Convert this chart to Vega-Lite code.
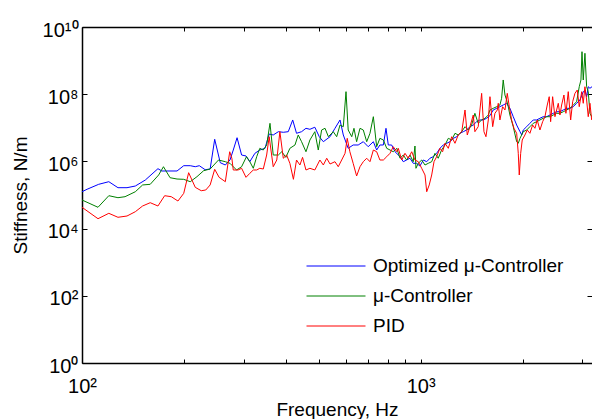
{
  "$schema": "https://vega.github.io/schema/vega-lite/v6.json",
  "width": 510,
  "height": 336,
  "autosize": "none",
  "padding": {"left": 82, "top": 27, "right": 0, "bottom": 56},
  "background": "white",
  "config": {
    "view": {"stroke": null},
    "font": "Liberation Sans",
    "axis": {
      "grid": false,
      "domainColor": "black",
      "domainWidth": 1.5,
      "tickColor": "black",
      "tickWidth": 1,
      "labelColor": "black",
      "titleColor": "black",
      "labelFont": "Liberation Sans",
      "titleFont": "Liberation Sans",
      "labelFontSize": 20,
      "titleFontSize": 19,
      "titleFontWeight": "normal"
    }
  },
  "data": {
    "values": [
      {"f":100,"s":1.25e5,"c":"opt"},{"f":103.5,"s":1.48e5,"c":"opt"},{"f":112,"s":2.08e5,"c":"opt"},{"f":120,"s":2.49e5,"c":"opt"},{"f":127.7,"s":1.65e5,"c":"opt"},{"f":135.8,"s":1.65e5,"c":"opt"},{"f":143.7,"s":1.85e5,"c":"opt"},{"f":153.8,"s":2.79e5,"c":"opt"},{"f":167.6,"s":6.07e5,"c":"opt"},{"f":172,"s":5.18e5,"c":"opt"},{"f":190.8,"s":5.18e5,"c":"opt"},{"f":199.7,"s":7.45e5,"c":"opt"},{"f":208.8,"s":7.45e5,"c":"opt"},{"f":216,"s":6.95e5,"c":"opt"},{"f":222,"s":7.45e5,"c":"opt"},{"f":231,"s":5.66e5,"c":"opt"},{"f":239,"s":5.94e5,"c":"opt"},{"f":246.5,"s":4.55e6,"c":"opt"},{"f":256,"s":9.15e5,"c":"opt"},{"f":265,"s":7.81e5,"c":"opt"},{"f":273.5,"s":1.10e6,"c":"opt"},{"f":279.7,"s":2.18e6,"c":"opt"},{"f":287,"s":5.07e6,"c":"opt"},{"f":296,"s":1.55e6,"c":"opt"},{"f":305,"s":1.45e6,"c":"opt"},{"f":313,"s":9.80e5,"c":"opt"},{"f":324,"s":1.74e6,"c":"opt"},{"f":335,"s":2.18e6,"c":"opt"},{"f":347,"s":2.45e6,"c":"opt"},{"f":357,"s":6.53e6,"c":"opt"},{"f":367,"s":6.11e6,"c":"opt"},{"f":380,"s":7.66e6,"c":"opt"},{"f":393,"s":7.35e6,"c":"opt"},{"f":406.5,"s":7.66e6,"c":"opt"},{"f":419,"s":1.71e7,"c":"opt"},{"f":430,"s":6.86e6,"c":"opt"},{"f":445,"s":7.66e6,"c":"opt"},{"f":458.5,"s":9.66e6,"c":"opt"},{"f":471,"s":9.02e6,"c":"opt"},{"f":487,"s":1.04e7,"c":"opt"},{"f":502,"s":5.43e6,"c":"opt"},{"f":516,"s":3.86e6,"c":"opt"},{"f":540,"s":5.43e6,"c":"opt"},{"f":558.5,"s":9.66e6,"c":"opt"},{"f":578,"s":1.71e7,"c":"opt"},{"f":591,"s":6.11e6,"c":"opt"},{"f":611,"s":2.45e6,"c":"opt"},{"f":632,"s":3.08e6,"c":"opt"},{"f":654,"s":3.08e6,"c":"opt"},{"f":677,"s":3.86e6,"c":"opt"},{"f":700,"s":2.74e6,"c":"opt"},{"f":725,"s":3.86e6,"c":"opt"},{"f":741.5,"s":2.18e6,"c":"opt"},{"f":758,"s":3.08e6,"c":"opt"},{"f":776,"s":3.08e6,"c":"opt"},{"f":790,"s":9.66e6,"c":"opt"},{"f":802.5,"s":3.08e6,"c":"opt"},{"f":821,"s":3.08e6,"c":"opt"},{"f":840,"s":1.94e6,"c":"opt"},{"f":869,"s":1.38e6,"c":"opt"},{"f":888.5,"s":9.80e5,"c":"opt"},{"f":909,"s":1.10e6,"c":"opt"},{"f":930,"s":1.24e6,"c":"opt"},{"f":951,"s":8.77e5,"c":"opt"},{"f":973,"s":8.77e5,"c":"opt"},{"f":995,"s":7.30e5,"c":"opt"},{"f":1018,"s":1.10e6,"c":"opt"},{"f":1042,"s":9.80e5,"c":"opt"},{"f":1065,"s":1.24e6,"c":"opt"},{"f":1089,"s":1.38e6,"c":"opt"},{"f":1115,"s":1.74e6,"c":"opt"},{"f":1140,"s":2.45e6,"c":"opt"},{"f":1166,"s":3.08e6,"c":"opt"},{"f":1194,"s":3.46e6,"c":"opt"},{"f":1221,"s":3.86e6,"c":"opt"},{"f":1249,"s":4.87e6,"c":"opt"},{"f":1278,"s":5.43e6,"c":"opt"},{"f":1306,"s":6.86e6,"c":"opt"},{"f":1336,"s":7.66e6,"c":"opt"},{"f":1367,"s":8.60e6,"c":"opt"},{"f":1398,"s":1.08e7,"c":"opt"},{"f":1430,"s":1.21e7,"c":"opt"},{"f":1463,"s":1.52e7,"c":"opt"},{"f":1496,"s":1.71e7,"c":"opt"},{"f":1530,"s":1.71e7,"c":"opt"},{"f":1566,"s":1.92e7,"c":"opt"},{"f":1602,"s":2.3e7,"c":"opt"},{"f":1638,"s":3.39e7,"c":"opt"},{"f":1677,"s":3.80e7,"c":"opt"},{"f":1714,"s":4.25e7,"c":"opt"},{"f":1753,"s":4.77e7,"c":"opt"},{"f":1794,"s":5.36e7,"c":"opt"},{"f":1835,"s":3.80e7,"c":"opt"},{"f":1877,"s":2.14e7,"c":"opt"},{"f":1921,"s":1.21e7,"c":"opt"},{"f":1965,"s":7.66e6,"c":"opt"},{"f":1988,"s":6.11e6,"c":"opt"},{"f":2009,"s":8.60e6,"c":"opt"},{"f":2056,"s":1.08e7,"c":"opt"},{"f":2102,"s":1.36e7,"c":"opt"},{"f":2150,"s":1.71e7,"c":"opt"},{"f":2200,"s":1.71e7,"c":"opt"},{"f":2250,"s":1.92e7,"c":"opt"},{"f":2301,"s":2.14e7,"c":"opt"},{"f":2355,"s":2.14e7,"c":"opt"},{"f":2409,"s":2.40e7,"c":"opt"},{"f":2463,"s":2.70e7,"c":"opt"},{"f":2521,"s":3.01e7,"c":"opt"},{"f":2578,"s":3.01e7,"c":"opt"},{"f":2637,"s":3.39e7,"c":"opt"},{"f":2698,"s":3.80e7,"c":"opt"},{"f":2759,"s":3.80e7,"c":"opt"},{"f":2822,"s":4.25e7,"c":"opt"},{"f":2888,"s":5.36e7,"c":"opt"},{"f":2954,"s":6.72e7,"c":"opt"},{"f":3021,"s":1.19e8,"c":"opt"},{"f":3056,"s":1.33e8,"c":"opt"},{"f":3091,"s":8.43e7,"c":"opt"},{"f":3125,"s":1.67e8,"c":"opt"},{"f":3162,"s":1.50e8,"c":"opt"},{"f":3206,"s":1.67e8,"c":"opt"},

      {"f":100,"s":7.10e4,"c":"mu"},{"f":111.5,"s":4.31e4,"c":"mu"},{"f":120,"s":9.53e4,"c":"mu"},{"f":127.7,"s":8.31e4,"c":"mu"},{"f":134,"s":8.90e4,"c":"mu"},{"f":143.7,"s":1.25e5,"c":"mu"},{"f":151,"s":1.99e5,"c":"mu"},{"f":159,"s":2.08e5,"c":"mu"},{"f":168.4,"s":3.94e5,"c":"mu"},{"f":174,"s":6.95e5,"c":"mu"},{"f":182,"s":3.27e5,"c":"mu"},{"f":190.8,"s":2.99e5,"c":"mu"},{"f":199.7,"s":2.93e5,"c":"mu"},{"f":208.8,"s":2.49e5,"c":"mu"},{"f":218.5,"s":3.51e5,"c":"mu"},{"f":228.7,"s":5.29e5,"c":"mu"},{"f":239,"s":5.94e5,"c":"mu"},{"f":253,"s":1.10e6,"c":"mu"},{"f":265,"s":9.80e5,"c":"mu"},{"f":273.5,"s":8.77e5,"c":"mu"},{"f":286,"s":5.55e5,"c":"mu"},{"f":296,"s":6.95e5,"c":"mu"},{"f":306,"s":1.38e6,"c":"mu"},{"f":313,"s":9.80e5,"c":"mu"},{"f":320.5,"s":6.24e5,"c":"mu"},{"f":328,"s":1.38e6,"c":"mu"},{"f":335,"s":2.45e6,"c":"mu"},{"f":343,"s":2.18e6,"c":"mu"},{"f":351,"s":3.08e6,"c":"mu"},{"f":359,"s":1.36e7,"c":"mu"},{"f":367,"s":1.55e6,"c":"mu"},{"f":380,"s":1.55e6,"c":"mu"},{"f":389,"s":1.94e6,"c":"mu"},{"f":400,"s":1.32e6,"c":"mu"},{"f":411,"s":2.45e6,"c":"mu"},{"f":425.5,"s":3.08e6,"c":"mu"},{"f":435,"s":6.11e6,"c":"mu"},{"f":445,"s":3.86e6,"c":"mu"},{"f":458.5,"s":1.94e6,"c":"mu"},{"f":471,"s":4.33e6,"c":"mu"},{"f":487,"s":7.66e6,"c":"mu"},{"f":498.5,"s":2.18e6,"c":"mu"},{"f":510,"s":8.60e6,"c":"mu"},{"f":522,"s":9.66e6,"c":"mu"},{"f":534,"s":5.43e6,"c":"mu"},{"f":552,"s":7.66e6,"c":"mu"},{"f":565,"s":5.43e6,"c":"mu"},{"f":578,"s":1.21e7,"c":"mu"},{"f":591,"s":1.08e7,"c":"mu"},{"f":602,"s":1.19e8,"c":"mu"},{"f":611,"s":8.60e6,"c":"mu"},{"f":626,"s":5.43e6,"c":"mu"},{"f":635.5,"s":9.66e6,"c":"mu"},{"f":647,"s":3.86e6,"c":"mu"},{"f":662,"s":9.66e6,"c":"mu"},{"f":677,"s":8.60e6,"c":"mu"},{"f":693,"s":3.86e6,"c":"mu"},{"f":708.5,"s":6.86e6,"c":"mu"},{"f":725,"s":2.14e7,"c":"mu"},{"f":741.5,"s":2.74e6,"c":"mu"},{"f":758,"s":4.87e6,"c":"mu"},{"f":776,"s":4.33e6,"c":"mu"},{"f":794,"s":2.45e6,"c":"mu"},{"f":812,"s":2.18e6,"c":"mu"},{"f":830,"s":1.94e6,"c":"mu"},{"f":850,"s":2.45e6,"c":"mu"},{"f":869,"s":1.24e6,"c":"mu"},{"f":888.5,"s":1.55e6,"c":"mu"},{"f":909,"s":1.10e6,"c":"mu"},{"f":930,"s":1.55e6,"c":"mu"},{"f":951,"s":9.80e5,"c":"mu"},{"f":962,"s":2.87e6,"c":"mu"},{"f":968.5,"s":6.24e5,"c":"mu"},{"f":984,"s":8.77e5,"c":"mu"},{"f":1007,"s":1.10e6,"c":"mu"},{"f":1030,"s":7.81e5,"c":"mu"},{"f":1053,"s":8.77e5,"c":"mu"},{"f":1078,"s":9.80e5,"c":"mu"},{"f":1102,"s":1.74e6,"c":"mu"},{"f":1127,"s":1.24e6,"c":"mu"},{"f":1153,"s":2.18e6,"c":"mu"},{"f":1180,"s":3.08e6,"c":"mu"},{"f":1207,"s":4.87e6,"c":"mu"},{"f":1235,"s":4.33e6,"c":"mu"},{"f":1263,"s":6.86e6,"c":"mu"},{"f":1291,"s":6.11e6,"c":"mu"},{"f":1322,"s":7.66e6,"c":"mu"},{"f":1352,"s":1.08e7,"c":"mu"},{"f":1382,"s":8.60e6,"c":"mu"},{"f":1414,"s":1.21e7,"c":"mu"},{"f":1446,"s":2.70e7,"c":"mu"},{"f":1479,"s":1.36e7,"c":"mu"},{"f":1514,"s":1.71e7,"c":"mu"},{"f":1548,"s":1.92e7,"c":"mu"},{"f":1584,"s":2.40e7,"c":"mu"},{"f":1602,"s":3.39e7,"c":"mu"},{"f":1638,"s":3.80e7,"c":"mu"},{"f":1677,"s":4.25e7,"c":"mu"},{"f":1714,"s":4.77e7,"c":"mu"},{"f":1734,"s":7.55e7,"c":"mu"},{"f":1753,"s":2.65e8,"c":"mu"},{"f":1774,"s":9.46e7,"c":"mu"},{"f":1794,"s":6.72e7,"c":"mu"},{"f":1814,"s":4.25e7,"c":"mu"},{"f":1835,"s":2.40e7,"c":"mu"},{"f":1877,"s":1.08e7,"c":"mu"},{"f":1921,"s":3.86e6,"c":"mu"},{"f":1942,"s":3.46e6,"c":"mu"},{"f":1965,"s":4.87e6,"c":"mu"},{"f":2009,"s":7.66e6,"c":"mu"},{"f":2056,"s":8.60e6,"c":"mu"},{"f":2102,"s":1.08e7,"c":"mu"},{"f":2150,"s":1.36e7,"c":"mu"},{"f":2200,"s":1.52e7,"c":"mu"},{"f":2250,"s":1.71e7,"c":"mu"},{"f":2301,"s":1.92e7,"c":"mu"},{"f":2355,"s":2.14e7,"c":"mu"},{"f":2409,"s":2.14e7,"c":"mu"},{"f":2463,"s":2.40e7,"c":"mu"},{"f":2521,"s":2.70e7,"c":"mu"},{"f":2578,"s":2.70e7,"c":"mu"},{"f":2637,"s":3.01e7,"c":"mu"},{"f":2698,"s":3.39e7,"c":"mu"},{"f":2759,"s":3.80e7,"c":"mu"},{"f":2822,"s":4.77e7,"c":"mu"},{"f":2888,"s":5.98e7,"c":"mu"},{"f":2940,"s":1.67e8,"c":"mu"},{"f":2974,"s":2.65e8,"c":"mu"},{"f":2995,"s":1.84e9,"c":"mu"},{"f":3021,"s":2.65e8,"c":"mu"},{"f":3056,"s":1.65e9,"c":"mu"},{"f":3091,"s":1.67e8,"c":"mu"},{"f":3125,"s":1.19e8,"c":"mu"},{"f":3162,"s":2.70e7,"c":"mu"},{"f":3199,"s":2.14e7,"c":"mu"},

      {"f":100,"s":4.31e4,"c":"pid"},{"f":111.5,"s":1.97e4,"c":"pid"},{"f":120,"s":2.85e4,"c":"pid"},{"f":127.7,"s":2.17e4,"c":"pid"},{"f":135.8,"s":2.37e4,"c":"pid"},{"f":143.7,"s":3.18e4,"c":"pid"},{"f":151,"s":4.71e4,"c":"pid"},{"f":159,"s":5.90e4,"c":"pid"},{"f":167.6,"s":4.71e4,"c":"pid"},{"f":175.4,"s":9.53e4,"c":"pid"},{"f":183.5,"s":8.90e4,"c":"pid"},{"f":192,"s":6.62e4,"c":"pid"},{"f":199.7,"s":1.12e5,"c":"pid"},{"f":206.5,"s":4.61e5,"c":"pid"},{"f":216,"s":1.69e5,"c":"pid"},{"f":225,"s":1.34e5,"c":"pid"},{"f":232,"s":1.41e5,"c":"pid"},{"f":239,"s":1.99e5,"c":"pid"},{"f":246.5,"s":5.82e5,"c":"pid"},{"f":254,"s":3.36e5,"c":"pid"},{"f":265,"s":2.49e5,"c":"pid"},{"f":273,"s":1.94e6,"c":"pid"},{"f":277,"s":1.24e6,"c":"pid"},{"f":279.7,"s":5.55e5,"c":"pid"},{"f":289,"s":5.55e5,"c":"pid"},{"f":296,"s":6.24e5,"c":"pid"},{"f":305,"s":3.36e5,"c":"pid"},{"f":313,"s":4.42e5,"c":"pid"},{"f":320.5,"s":5.55e5,"c":"pid"},{"f":328,"s":5.55e5,"c":"pid"},{"f":335,"s":6.24e5,"c":"pid"},{"f":343,"s":5.94e5,"c":"pid"},{"f":351,"s":1.55e6,"c":"pid"},{"f":357,"s":5.43e6,"c":"pid"},{"f":367,"s":6.95e5,"c":"pid"},{"f":376,"s":1.10e6,"c":"pid"},{"f":384,"s":7.66e6,"c":"pid"},{"f":393,"s":1.24e6,"c":"pid"},{"f":402,"s":1.55e6,"c":"pid"},{"f":411,"s":8.77e5,"c":"pid"},{"f":421,"s":2.93e5,"c":"pid"},{"f":430,"s":1.10e6,"c":"pid"},{"f":440,"s":7.81e5,"c":"pid"},{"f":448,"s":1.32e6,"c":"pid"},{"f":458.5,"s":5.55e5,"c":"pid"},{"f":471,"s":6.24e5,"c":"pid"},{"f":487,"s":5.55e5,"c":"pid"},{"f":504,"s":1.10e6,"c":"pid"},{"f":516,"s":7.81e5,"c":"pid"},{"f":528,"s":1.24e6,"c":"pid"},{"f":540,"s":8.37e5,"c":"pid"},{"f":558.5,"s":9.80e5,"c":"pid"},{"f":571,"s":6.95e5,"c":"pid"},{"f":584.5,"s":1.10e6,"c":"pid"},{"f":598,"s":1.74e6,"c":"pid"},{"f":607,"s":4.87e6,"c":"pid"},{"f":618,"s":1.94e6,"c":"pid"},{"f":632,"s":8.77e5,"c":"pid"},{"f":647,"s":3.68e5,"c":"pid"},{"f":662,"s":6.95e5,"c":"pid"},{"f":677,"s":9.80e5,"c":"pid"},{"f":693,"s":1.24e6,"c":"pid"},{"f":708.5,"s":9.80e5,"c":"pid"},{"f":725,"s":2.18e6,"c":"pid"},{"f":741.5,"s":1.94e6,"c":"pid"},{"f":758,"s":1.10e6,"c":"pid"},{"f":776,"s":1.10e6,"c":"pid"},{"f":794,"s":1.38e6,"c":"pid"},{"f":812,"s":1.74e6,"c":"pid"},{"f":830,"s":2.74e6,"c":"pid"},{"f":850,"s":1.94e6,"c":"pid"},{"f":859,"s":2.45e6,"c":"pid"},{"f":879,"s":1.10e6,"c":"pid"},{"f":899,"s":1.74e6,"c":"pid"},{"f":919,"s":1.24e6,"c":"pid"},{"f":941,"s":1.94e6,"c":"pid"},{"f":962,"s":1.10e6,"c":"pid"},{"f":984,"s":9.80e5,"c":"pid"},{"f":1007,"s":6.24e5,"c":"pid"},{"f":1030,"s":3.94e5,"c":"pid"},{"f":1042,"s":1.25e5,"c":"pid"},{"f":1060,"s":1.99e5,"c":"pid"},{"f":1078,"s":3.94e5,"c":"pid"},{"f":1095,"s":9.80e5,"c":"pid"},{"f":1115,"s":1.38e6,"c":"pid"},{"f":1140,"s":2.45e6,"c":"pid"},{"f":1161,"s":1.94e6,"c":"pid"},{"f":1180,"s":3.46e6,"c":"pid"},{"f":1207,"s":2.45e6,"c":"pid"},{"f":1235,"s":5.43e6,"c":"pid"},{"f":1263,"s":3.46e6,"c":"pid"},{"f":1291,"s":6.11e6,"c":"pid"},{"f":1322,"s":7.66e6,"c":"pid"},{"f":1352,"s":3.39e7,"c":"pid"},{"f":1373,"s":6.11e6,"c":"pid"},{"f":1398,"s":1.08e7,"c":"pid"},{"f":1430,"s":2.40e7,"c":"pid"},{"f":1446,"s":7.66e6,"c":"pid"},{"f":1479,"s":1.08e7,"c":"pid"},{"f":1514,"s":1.06e8,"c":"pid"},{"f":1538,"s":7.66e6,"c":"pid"},{"f":1559,"s":5.43e6,"c":"pid"},{"f":1584,"s":1.71e7,"c":"pid"},{"f":1602,"s":8.43e7,"c":"pid"},{"f":1632,"s":1.08e7,"c":"pid"},{"f":1657,"s":2.70e7,"c":"pid"},{"f":1684,"s":3.39e7,"c":"pid"},{"f":1695,"s":5.36e7,"c":"pid"},{"f":1714,"s":1.71e7,"c":"pid"},{"f":1746,"s":4.25e7,"c":"pid"},{"f":1774,"s":3.39e7,"c":"pid"},{"f":1802,"s":1.06e8,"c":"pid"},{"f":1827,"s":4.25e7,"c":"pid"},{"f":1856,"s":1.71e7,"c":"pid"},{"f":1886,"s":9.66e6,"c":"pid"},{"f":1921,"s":6.86e6,"c":"pid"},{"f":1942,"s":1.74e6,"c":"pid"},{"f":1955,"s":3.94e5,"c":"pid"},{"f":1974,"s":1.74e6,"c":"pid"},{"f":1995,"s":4.33e6,"c":"pid"},{"f":2032,"s":6.11e6,"c":"pid"},{"f":2064,"s":8.60e6,"c":"pid"},{"f":2102,"s":6.86e6,"c":"pid"},{"f":2141,"s":1.21e7,"c":"pid"},{"f":2175,"s":9.66e6,"c":"pid"},{"f":2209,"s":1.71e7,"c":"pid"},{"f":2250,"s":8.60e6,"c":"pid"},{"f":2292,"s":1.52e7,"c":"pid"},{"f":2328,"s":2.14e7,"c":"pid"},{"f":2365,"s":4.77e7,"c":"pid"},{"f":2397,"s":8.43e7,"c":"pid"},{"f":2420,"s":1.52e7,"c":"pid"},{"f":2453,"s":8.43e7,"c":"pid"},{"f":2492,"s":2.14e7,"c":"pid"},{"f":2521,"s":3.39e7,"c":"pid"},{"f":2549,"s":5.36e7,"c":"pid"},{"f":2578,"s":2.40e7,"c":"pid"},{"f":2608,"s":4.77e7,"c":"pid"},{"f":2649,"s":9.46e7,"c":"pid"},{"f":2685,"s":2.70e7,"c":"pid"},{"f":2728,"s":1.19e8,"c":"pid"},{"f":2773,"s":1.71e7,"c":"pid"},{"f":2811,"s":5.98e7,"c":"pid"},{"f":2855,"s":1.06e8,"c":"pid"},{"f":2900,"s":1.33e8,"c":"pid"},{"f":2940,"s":4.25e7,"c":"pid"},{"f":2989,"s":1.19e8,"c":"pid"},{"f":3021,"s":5.36e7,"c":"pid"},{"f":3056,"s":1.67e8,"c":"pid"},{"f":3091,"s":6.72e7,"c":"pid"},{"f":3125,"s":2.14e7,"c":"pid"},{"f":3162,"s":5.36e7,"c":"pid"},{"f":3199,"s":1.71e7,"c":"pid"}
    ]
  },
  "layer": [
    {
      "mark": {"type": "line", "strokeWidth": 1, "clip": true},
      "encoding": {
        "x": {
          "field": "f", "type": "quantitative",
          "scale": {"type": "log", "domain": [100, 3206], "nice": false},
          "axis": {
            "orient": "bottom",
            "values": [100, 200, 300, 400, 500, 600, 700, 800, 900, 1000, 2000, 3000],
            "labelExpr": "datum.value == 100 ? '10²' : datum.value == 1000 ? '10³' : ''",
            "tickSize": -4,
            "labelPadding": 17,
            "labelFlush": false,
            "labelOverlap": false,
            "title": "Frequency, Hz",
            "titlePadding": 4
          }
        },
        "y": {
          "field": "s", "type": "quantitative",
          "scale": {"type": "log", "domain": [1, 1e10], "nice": false},
          "axis": {
            "orient": "left",
            "values": [1, 100, 10000, 1000000, 100000000, 10000000000],
            "labelExpr": "datum.value == 1 ? '10⁰' : datum.value == 100 ? '10²' : datum.value == 10000 ? '10⁴' : datum.value == 1000000 ? '10⁶' : datum.value == 100000000 ? '10⁸' : '10¹⁰'",
            "tickSize": -5,
            "labelPadding": 9,
            "labelFlush": false,
            "labelOverlap": false,
            "labelOffset": 3,
            "title": "Stiffness, N/m",
            "titlePadding": 12
          }
        },
        "color": {
          "field": "c", "type": "nominal",
          "scale": {"domain": ["opt", "mu", "pid"], "range": ["#0000ff", "#008000", "#ff0000"]},
          "legend": {
            "orient": "none",
            "legendX": 224,
            "legendY": 229,
            "title": null,
            "padding": 0,
            "symbolType": "stroke",
            "symbolSize": 3481,
            "symbolStrokeWidth": 1,
            "clipHeight": 20,
            "rowPadding": 10,
            "labelOffset": 7,
            "labelFont": "Liberation Sans",
            "labelFontSize": 19,
            "labelColor": "black",
            "labelLimit": 400,
            "labelExpr": "datum.value == 'opt' ? 'Optimized μ-Controller' : datum.value == 'mu' ? 'μ-Controller' : 'PID'"
          }
        }
      }
    },
    {
      "mark": {"type": "line", "strokeOpacity": 0},
      "encoding": {
        "x": {
          "field": "f", "type": "quantitative",
          "scale": {"type": "log", "domain": [100, 3206], "nice": false},
          "axis": {
            "orient": "top",
            "values": [100, 200, 300, 400, 500, 600, 700, 800, 900, 1000, 2000, 3000],
            "labels": false,
            "tickSize": -4,
            "title": null
          }
        },
        "y": {
          "field": "s", "type": "quantitative",
          "scale": {"type": "log", "domain": [1, 1e10], "nice": false},
          "axis": {
            "orient": "right",
            "values": [1, 100, 10000, 1000000, 100000000, 10000000000],
            "labels": false,
            "domain": false,
            "tickSize": -5,
            "title": null
          }
        }
      }
    }
  ],
  "resolve": {"axis": {"x": "independent", "y": "independent"}}
}
